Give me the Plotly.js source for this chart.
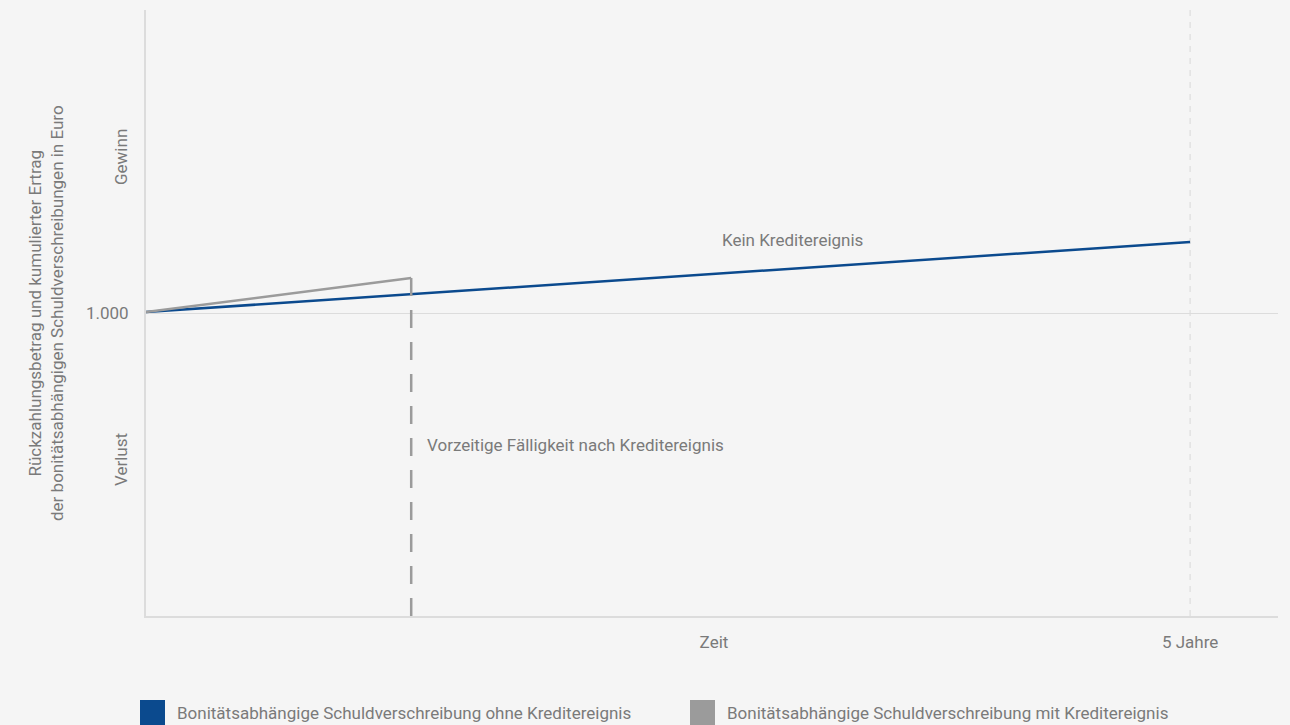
<!DOCTYPE html>
<html>
<head>
<meta charset="utf-8">
<script src="https://cdn.plot.ly/plotly-3.0.1.min.js"></script>
<style>
html,body{margin:0;padding:0;background:#f5f5f5;}
#chart{width:1290px;height:725px;}
</style>
</head>
<body>
<div id="chart"></div>
<script>
// Data (x in years, y in euros, schematic)
const seriesNames = ['Bonitätsabhängige Schuldverschreibung ohne Kreditereignis', 'Bonitätsabhängige Schuldverschreibung mit Kreditereignis'];
const seriesColors = ['#0b4a8e', '#9b9b9b'];
const noEventX = [0, 5];
const noEventY = [1001, 1071];
const eventX = [0, 1.27];
const eventY = [1001, 1035];
const dropX = [1.27, 1.27];
const dropY = [1035, 697];
const xTickVals = [2.72, 5];
const xTickText = ['Zeit', '5 Jahre'];
const yTickVals = [1000];
const yTickText = ['1.000'];
const maturity = 5;

const FONT = 'Roboto, "Liberation Sans", sans-serif';
const TXT = '#7a7a7a';
const FS = 17;

const traces = [
  {x: noEventX, y: noEventY, mode: 'lines', name: seriesNames[0], line: {color: seriesColors[0], width: 2.5}, showlegend: false, hoverinfo: 'skip'},
  {x: eventX, y: eventY, mode: 'lines', name: seriesNames[1], line: {color: seriesColors[1], width: 2.5}, showlegend: false, hoverinfo: 'skip'},
  {x: dropX, y: dropY, mode: 'lines', name: seriesNames[1], line: {color: seriesColors[1], width: 2.5, dash: '18px,14px'}, showlegend: false, hoverinfo: 'skip'}
];

const legendX = [140, 690];
const shapes = [
  {type: 'line', xref: 'x', yref: 'paper', x0: maturity, x1: maturity, y0: 0, y1: 1, line: {color: '#d8d8d8', width: 1, dash: '6px,6px'}, layer: 'below'}
];
const annotations = [
  {xref: 'x', yref: 'y', x: 3.094, y: 1073, text: 'Kein Kreditereignis', showarrow: false, xanchor: 'center', yanchor: 'middle', font: {family: FONT, size: FS, color: TXT}},
  {xref: 'x', yref: 'y', x: 1.335, y: 868, text: 'Vorzeitige Fälligkeit nach Kreditereignis', showarrow: false, xanchor: 'left', yanchor: 'middle', font: {family: FONT, size: FS, color: TXT}},
  {xref: 'paper', yref: 'paper', x: (121 - 146) / 1132, y: (616 - 157) / 606, text: 'Gewinn', textangle: -90, showarrow: false, xanchor: 'center', yanchor: 'middle', font: {family: FONT, size: FS, color: TXT}},
  {xref: 'paper', yref: 'paper', x: (121 - 146) / 1132, y: (616 - 460) / 606, text: 'Verlust', textangle: -90, showarrow: false, xanchor: 'center', yanchor: 'middle', font: {family: FONT, size: FS, color: TXT}},
  {xref: 'paper', yref: 'paper', x: (46 - 146) / 1132, y: 0.5, text: 'Rückzahlungsbetrag und kumulierter Ertrag<br>der bonitätsabhängigen Schuldverschreibungen in Euro', textangle: -90, showarrow: false, xanchor: 'center', yanchor: 'middle', font: {family: FONT, size: FS, color: TXT}}
];
seriesNames.forEach((n, i) => {
  const x0 = (legendX[i] - 146) / 1132;
  shapes.push({type: 'rect', xref: 'paper', yref: 'paper', x0: x0, x1: x0 + 25 / 1132, y0: (616 - 725) / 606, y1: (616 - 700) / 606, fillcolor: seriesColors[i], line: {width: 0}});
  annotations.push({xref: 'paper', yref: 'paper', x: x0 + 35 / 1132, y: (616 - 713) / 606, text: n, showarrow: false, xanchor: 'left', yanchor: 'middle', font: {family: FONT, size: FS, color: TXT}});
});

const layout = {
  width: 1290, height: 725,
  paper_bgcolor: '#f5f5f5', plot_bgcolor: '#f5f5f5',
  margin: {l: 146, r: 12, t: 10, b: 109},
  showlegend: false,
  font: {family: FONT, size: FS, color: TXT},
  xaxis: {range: [0, 5.421], tickvals: xTickVals, ticktext: xTickText, showgrid: false, zeroline: false,
          showline: true, linecolor: '#dcdcdc', linewidth: 2, ticks: '', ticklabelstandoff: 10,
          tickfont: {family: FONT, size: FS, color: TXT}, fixedrange: true},
  yaxis: {range: [697, 1303], tickvals: yTickVals, ticktext: yTickText, showgrid: true, gridcolor: '#dcdcdc', gridwidth: 1,
          zeroline: false, showline: true, linecolor: '#dcdcdc', linewidth: 2, ticks: '', ticklabelstandoff: 12,
          tickfont: {family: FONT, size: FS, color: TXT}, fixedrange: true},
  shapes: shapes,
  annotations: annotations
};

Plotly.newPlot('chart', traces, layout, {displayModeBar: false, staticPlot: true});
</script>
</body>
</html>
